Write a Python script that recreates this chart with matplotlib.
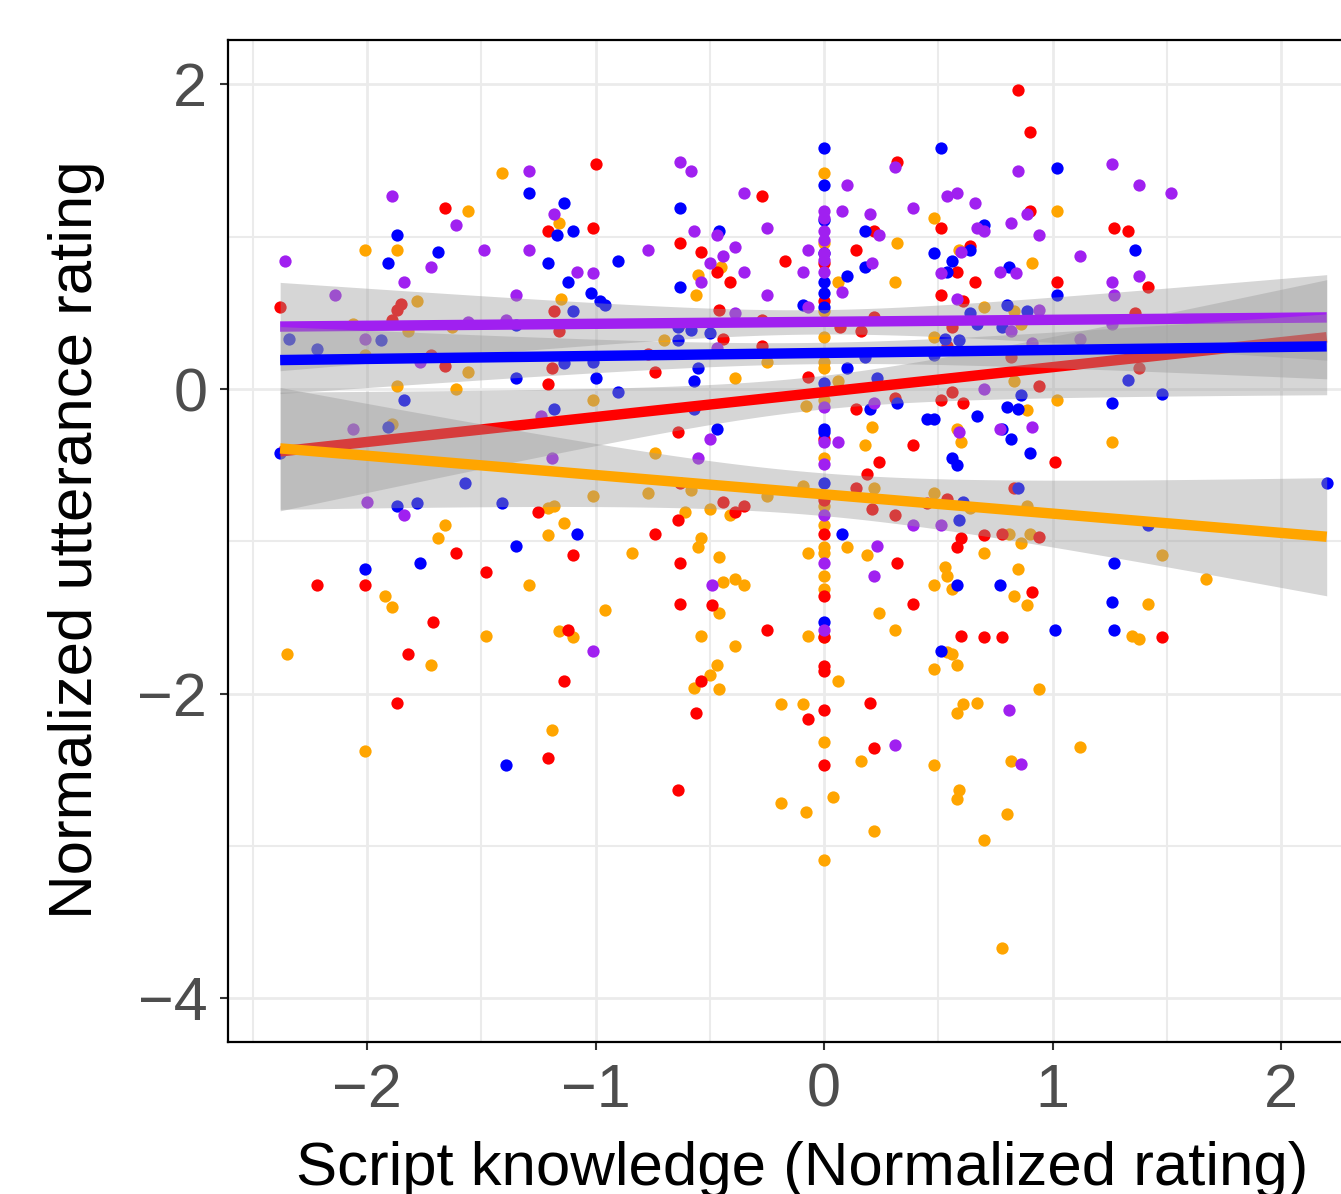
import numpy as np
import matplotlib
matplotlib.use("Agg")
import matplotlib.pyplot as plt

plt.rcParams['font.family'] = ['Liberation Sans', 'DejaVu Sans']

# scatter data (script knowledge vs utterance rating)
red_x = [-1.66, -1.85, -1.87, -2.38, -1.89, -1.72, -1.66, -1.00, -0.27, -1.21, -1.01, -0.63, -0.54, -0.17,
         -0.47, -0.41, -1.18, -0.46, -0.27, -1.16, -0.44, -0.27, -0.77, -1.19, -0.74, -0.07, 0.85, 0.90,
         0.32, 0.90, 0.51, 0.22, 0.14, 0.64, 0.58, 0.66, 1.02, 0.51, 0.61, 0.22, 0.07, 0.16, 0.56, 0.54,
         0.82, 0.00, 0.00, 1.27, 1.33, 1.42, 1.36, 1.38, -1.25, -1.61, -1.48, -2.22, -2.01, -1.71, -1.82,
         -1.21, -0.64, -0.63, -0.44, -0.39, -0.35, -0.64, -0.74, -1.10, -0.63, -0.63, -0.49, -1.12, -0.25,
         -1.14, -0.54, 0.14, 0.31, 0.51, 0.56, 0.61, 0.94, 0.39, 0.24, 1.01, 0.19, 0.14, 0.83, 0.54, 0.45,
         0.21, 0.31, 0.78, 0.94, 0.70, 0.60, 0.58, 0.32, 0.91, 0.39, 0.60, 0.70, 0.78, 0.00, 0.00, 0.00,
         0.00, 0.00, 0.00, 0.00, 1.48, -1.87, -0.56, -0.07, -1.21, -0.64, 0.00, 0.20, 0.22, 0.00]
red_y = [1.19, 0.56, 0.52, 0.54, 0.45, 0.22, 0.15, 1.48, 1.27, 1.04, 1.06, 0.96, 0.90, 0.84,
         0.77, 0.70, 0.51, 0.52, 0.45, 0.38, 0.33, 0.28, 0.23, 0.14, 0.11, 0.08, 1.96, 1.69,
         1.49, 1.17, 1.06, 1.04, 0.91, 0.94, 0.77, 0.70, 0.70, 0.62, 0.58, 0.47, 0.41, 0.38, 0.41, 0.28,
         0.21, 0.83, 0.58, 1.06, 1.04, 0.67, 0.50, 0.14, -0.81, -1.08, -1.20, -1.29, -1.29, -1.53, -1.74,
         0.03, -0.28, -0.62, -0.74, -0.81, -0.77, -0.86, -0.95, -1.09, -1.14, -1.41, -1.42, -1.58, -1.58,
         -1.92, -1.92, -0.13, -0.06, -0.07, -0.02, -0.09, 0.02, -0.37, -0.48, -0.48, -0.56, -0.65, -0.65, -0.72, -0.75,
         -0.79, -0.83, -0.95, -0.97, -0.96, -0.98, -1.04, -1.14, -1.33, -1.41, -1.62, -1.63, -1.63, -0.33, -0.73, -0.95,
         -1.36, -1.63, -1.82, -1.85, -1.63, -2.06, -2.13, -2.17, -2.42, -2.63, -2.11, -2.06, -2.36, -2.47]

orange_x = [-1.41, -1.56, -2.01, -1.87, -1.78, -2.06, -1.82, -1.63, -2.01, -1.56, -1.16, -0.55, -0.45,
            -0.56, -1.15, -0.63, -0.70, -0.25, -0.39, 0.00, 0.00, 0.00, 0.00, 0.00, 0.00, 1.02, 0.48, 0.32,
            0.59, 0.06, 0.31, 0.91, 0.70, 0.83, 0.86, 0.48, 0.06, -1.87, -1.61, -1.89, -1.66, -1.69, -1.29,
            -1.92, -1.89, -1.48, -2.35, -1.72, -1.01, -0.08, -0.74, -1.01, -0.77, -0.58, -0.25, -0.09, -0.41,
            -0.50, -0.61, -1.21, -1.18, -1.14, -1.21, -0.54, -0.55, -0.84, -0.46, -0.07, -0.44, -0.39, -0.35,
            -0.46, -0.96, -1.16, -1.10, -0.07, -0.54, -0.39, -0.47, -0.50, 0.83, 1.02, 0.89, 0.58, 0.21, 0.60,
            0.18, 0.22, 0.48, 0.89, 0.64, 0.81, 0.90, 0.86, 0.10, 0.19, 0.70, 0.53, 0.54, 0.85, 0.48, 0.56,
            0.83, 0.89, 0.24, 0.31, 0.54, 0.56, 0.58, 0.48, 0.06, 0.00, 0.00, 0.00, 0.00, 0.00, 0.00, 0.00,
            0.00, 0.00, 1.26, 1.48, 1.67, 1.42, 1.35, 1.38, -2.01, -0.57, -0.46, -1.19, -0.19, -0.09, -0.19,
            -0.08, 0.61, 0.67, 0.58, 0.94, 0.00, 0.16, 0.48, 0.82, 0.59, 0.58, 0.04, 0.80, 0.22, 0.70, 0.00,
            0.78, 1.12]
orange_y = [1.42, 1.17, 0.91, 0.91, 0.58, 0.43, 0.38, 0.41, 0.22, 0.11, 1.09, 0.75, 0.80,
            0.62, 0.59, 0.43, 0.32, 0.18, 0.07, 1.42, 0.96, 0.51, 0.34, 0.18, 0.14, 1.17, 1.12, 0.96,
            0.91, 0.70, 0.70, 0.83, 0.54, 0.51, 0.43, 0.34, 0.05, 0.02, 0.00, -0.23, -0.89, -0.98, -1.29,
            -1.36, -1.43, -1.62, -1.74, -1.81, -0.07, -0.11, -0.42, -0.70, -0.68, -0.66, -0.70, -0.64, -0.83,
            -0.79, -0.81, -0.78, -0.77, -0.88, -0.96, -0.98, -1.04, -1.08, -1.10, -1.08, -1.27, -1.25, -1.29,
            -1.47, -1.45, -1.59, -1.63, -1.62, -1.62, -1.69, -1.81, -1.88, 0.05, -0.07, -0.14, -0.26, -0.25, -0.35,
            -0.37, -0.65, -0.68, -0.77, -0.78, -0.95, -0.95, -1.01, -1.04, -1.09, -1.08, -1.17, -1.23, -1.18, -1.29, -1.31,
            -1.36, -1.42, -1.47, -1.58, -1.73, -1.74, -1.81, -1.84, -1.92, -0.07, -0.45, -0.77, -0.89, -1.04, -1.08, -1.23,
            -1.31, -1.63, -0.35, -1.09, -1.25, -1.41, -1.62, -1.64, -2.38, -1.96, -1.97, -2.24, -2.07, -2.07, -2.72,
            -2.78, -2.07, -2.06, -2.13, -1.97, -2.32, -2.44, -2.47, -2.44, -2.63, -2.69, -2.68, -2.79, -2.90, -2.96, -3.09,
            -3.67, -2.35]

blue_x = [-1.29, -1.87, -1.69, -1.91, -2.34, -1.94, -2.22, -1.35, -1.35, -1.14, -0.63, -1.17, -1.10, -0.46,
          -1.21, -0.90, -1.12, -0.63, -1.02, -0.98, -0.96, -1.10, -0.09, -0.64, -0.58, -0.50, -0.64, -1.01,
          -1.14, -0.55, -1.00, -0.57, 0.00, 0.51, 1.02, 0.00, 0.00, 0.00, 0.00, 0.00, 0.00, 0.70, 0.18, 0.48,
          0.64, 0.56, 0.54, 0.18, 0.10, 0.81, 0.64, 0.80, 0.89, 1.02, 0.67, 0.78, 0.53, 0.59, 0.18, 0.48,
          0.10, 0.23, 1.36, 1.33, -1.84, -1.91, -2.38, -1.57, -1.87, -1.78, -1.41, -1.35, -2.01, -1.77,
          -0.90, -1.18, -0.57, -0.47, -1.08, 0.20, 0.32, 0.86, 0.80, 0.85, 0.67, 0.45, 0.48, 0.78, 0.82, 0.90,
          0.56, 0.58, 0.85, 0.61, 0.59, 0.08, 0.58, 0.77, 1.01, 0.51, 0.00, 0.00, 0.00, 0.00, 0.00, 1.48,
          1.26, 2.20, 1.42, 1.27, 1.26, 1.27, -1.39]
blue_y = [1.29, 1.01, 0.90, 0.83, 0.33, 0.32, 0.26, 0.07, 0.42, 1.22, 1.19, 1.01, 1.04, 1.04,
          0.83, 0.84, 0.70, 0.67, 0.63, 0.58, 0.55, 0.51, 0.55, 0.41, 0.39, 0.37, 0.32, 0.18,
          0.17, 0.14, 0.07, 0.05, 1.58, 1.58, 1.45, 1.34, 1.11, 0.89, 0.70, 0.63, 0.54, 1.08, 1.04, 0.89,
          0.91, 0.84, 0.77, 0.80, 0.74, 0.80, 0.50, 0.55, 0.51, 0.62, 0.43, 0.41, 0.33, 0.32, 0.21, 0.22,
          0.14, 0.07, 0.91, 0.06, -0.07, -0.25, -0.42, -0.62, -0.77, -0.75, -0.75, -1.03, -1.18, -1.14,
          -0.02, -0.13, -0.13, -0.26, -0.95, -0.13, -0.09, -0.04, -0.12, -0.13, -0.18, -0.20, -0.20, -0.26, -0.33, -0.42,
          -0.45, -0.50, -0.65, -0.74, -0.86, -0.95, -1.29, -1.29, -1.58, -1.72, -0.26, -0.28, -0.62, -1.53, 0.04, -0.03,
          -0.09, -0.62, -0.89, -1.14, -1.40, -1.58, -2.47]

purple_x = [-1.29, -1.89, -1.61, -1.49, -1.29, -2.36, -1.72, -1.84, -2.14, -1.35, -1.56, -1.39, -2.01, -1.77,
            -0.63, -0.58, -0.35, -1.18, -0.57, -0.47, -0.25, -0.77, -0.39, -0.44, -0.50, -0.07, -0.09, -0.35,
            -1.08, -1.01, -0.54, -0.25, -0.39, -0.47, 0.00, 0.00, 0.00, 0.00, 0.00, 0.00, 0.00, 0.31, 0.85,
            0.10, 0.54, 0.58, 0.66, 0.39, 0.08, 0.89, 0.20, 0.82, 0.67, 0.70, 0.94, 0.24, 0.60, 0.51, 0.21,
            0.08, 0.77, 0.84, 0.58, 0.94, -0.07, 0.82, 0.91, 1.26, 1.38, 1.52, 1.12, 1.38, 1.26, 1.27, 1.26,
            1.12, -2.06, -2.00, -1.84, -1.24, -0.50, -0.55, -1.19, -0.49, -1.01, 0.22, 0.70, 0.59, 0.77, 0.91,
            0.06, 0.39, 0.51, 0.23, 0.22, 0.00, 0.00, 0.00, 0.00, 0.00, 0.00, 0.81, 0.31, 0.86]
purple_y = [1.43, 1.27, 1.08, 0.91, 0.91, 0.84, 0.80, 0.70, 0.62, 0.62, 0.44, 0.45, 0.33, 0.18,
            1.49, 1.43, 1.29, 1.15, 1.04, 1.01, 1.06, 0.91, 0.93, 0.87, 0.83, 0.91, 0.77, 0.77,
            0.77, 0.76, 0.70, 0.62, 0.50, 0.27, 1.17, 1.12, 1.04, 0.98, 0.89, 0.85, 0.77, 1.46, 1.43,
            1.34, 1.27, 1.29, 1.22, 1.19, 1.17, 1.15, 1.15, 1.09, 1.06, 1.04, 1.01, 1.01, 0.90, 0.76, 0.83,
            0.64, 0.77, 0.76, 0.59, 0.52, 0.54, 0.38, 0.30, 1.48, 1.34, 1.29, 0.87, 0.74, 0.70, 0.62, 0.43,
            0.33, -0.26, -0.74, -0.83, -0.18, -0.33, -0.45, -0.45, -1.29, -1.72, -0.09, 0.00, -0.28, -0.26, -0.25,
            -0.35, -0.89, -0.89, -1.03, -1.23, -0.12, -0.35, -0.49, -0.83, -1.14, -1.58, -2.11, -2.34, -2.46]

# fitted lines (ends at x = -2.38 and 2.20) and 95% band half-widths
groups = ['red', 'purple', 'orange', 'blue']
colors = {'red': '#FF0000', 'purple': '#A020F0', 'orange': '#FFA500', 'blue': '#0000FF'}
fit_x = [-2.38, 2.20]
fit_y = {'red': [-0.41, 0.34], 'purple': [0.41, 0.47], 'orange': [-0.39, -0.97], 'blue': [0.19, 0.28]}
band_edge = {'red': 0.39, 'purple': 0.29, 'orange': 0.40, 'blue': 0.22}
band_min = {'red': 0.11, 'purple': 0.08, 'orange': 0.14, 'blue': 0.07}
band_mid = -0.05

fig = plt.figure(figsize=(13.41, 11.94), dpi=100)
ax = fig.add_axes([228 / 1341, 152 / 1194, (1376 - 228) / 1341, 1002 / 1194])

# points
pts = {'red': (red_x, red_y), 'orange': (orange_x, orange_y),
       'blue': (blue_x, blue_y), 'purple': (purple_x, purple_y)}
for g in ['orange', 'red', 'blue', 'purple']:
    ax.scatter(pts[g][0], pts[g][1], s=78, color=colors[g], linewidths=0, zorder=3)

# smooth lines with grey ribbons, drawn group after group like geom_smooth
xs = np.linspace(fit_x[0], fit_x[1], 200)
for g in groups:
    y0, y1 = fit_y[g]
    ys = y0 + (y1 - y0) * (xs - fit_x[0]) / (fit_x[1] - fit_x[0])
    k = (band_edge[g] ** 2 - band_min[g] ** 2) / (fit_x[0] - band_mid) ** 2
    half = np.sqrt(band_min[g] ** 2 + k * (xs - band_mid) ** 2)
    ax.fill_between(xs, ys - half, ys + half, color='#999999', alpha=0.4, linewidth=0, zorder=4)
    ax.plot(xs, ys, color=colors[g], lw=7.5, solid_capstyle='butt', zorder=4)

ax.set_xlim((228 - 824) / 228.5, (1376 - 824) / 228.5)
ax.set_ylim((389 - 1042) / 152.3, (389 - 40) / 152.3)

ax.set_xticks([-2, -1, 0, 1, 2])
ax.set_xticklabels(['\u22122', '\u22121', '0', '1', '2'])
ax.set_xticks([-2.5, -1.5, -0.5, 0.5, 1.5], minor=True)
ax.set_yticks([-4, -2, 0, 2])
ax.set_yticklabels(['\u22124', '\u22122', '0', '2'])
ax.set_yticks([-3, -1, 1], minor=True)

ax.grid(True, which='major', color='#EBEBEB', lw=2, zorder=0)
ax.grid(True, which='minor', color='#EBEBEB', lw=1.5, zorder=0)
ax.set_axisbelow(True)

ax.tick_params(which='major', length=6, width=1.5, color='#333333', labelsize=44,
               labelcolor='#4D4D4D', pad=9)
ax.tick_params(which='minor', length=0)
for sp in ax.spines.values():
    sp.set_color('black')
    sp.set_linewidth(1.6)

fig.text(802 / 1341, 1 - 1185 / 1194, 'Script knowledge (Normalized rating)', fontsize=44.5,
         ha='center', va='baseline')
fig.text(77 / 1341, 1 - 540 / 1194, 'Normalized utterance rating', fontsize=44.5,
         ha='center', va='center', rotation=90)

fig.savefig('out.png', dpi=100)
